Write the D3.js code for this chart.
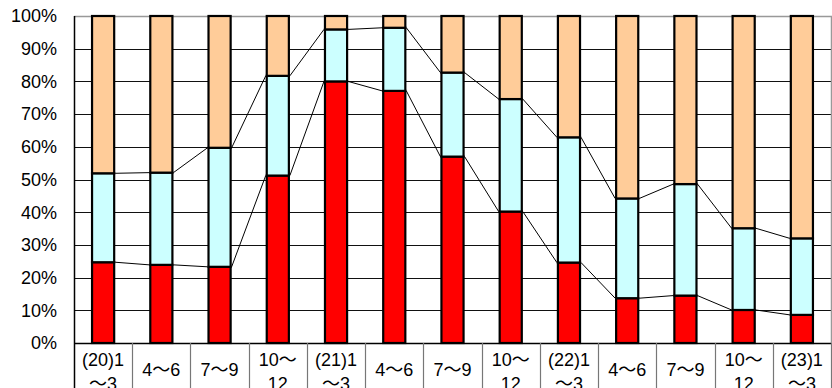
<!DOCTYPE html>
<html>
<head>
<meta charset="utf-8">
<script src="https://cdn.jsdelivr.net/npm/d3@7"></script>
<style>
  body { margin: 0; background: #fff; }
  svg { display: block; font-family: "Liberation Sans", Arial, "Noto Sans CJK JP", sans-serif; }
</style>
</head>
<body>
<div data-js-graph></div>
<script>
// quarters (two-line labels split on \n)
const categories = [
  '(20)1\n～3', '4～6', '7～9', '10～\n12',
  '(21)1\n～3', '4～6', '7～9', '10～\n12',
  '(22)1\n～3', '4～6', '7～9', '10～\n12',
  '(23)1\n～3',
];

// shares in %, bottom to top
const redShare = [24.7, 23.9, 23.3, 51.2, 80.0, 77.1, 57.0, 40.2, 24.6, 13.7, 14.5, 10.1, 8.6];
const cyanShare = [27.2, 28.2, 36.4, 30.5, 15.9, 19.3, 25.7, 34.4, 38.3, 30.5, 34.1, 25.0, 23.4];
const peachShare = [48.1, 47.9, 40.3, 18.3, 4.1, 3.6, 17.3, 25.4, 37.1, 55.8, 51.4, 64.9, 68.0];

const yTicks = [0, 10, 20, 30, 40, 50, 60, 70, 80, 90, 100];

const SETTING = {
  width: 832,
  height: 388,
  left: 74,
  right: 831,
  top: 16,
  bottom: 343,
  colors: ['#ff0000', '#ccffff', '#ffcc99'],
};

const keys = ['red', 'cyan', 'peach'];
const rows = categories.map((c, i) => ({
  idx: i, red: redShare[i], cyan: cyanShare[i], peach: peachShare[i],
}));
const series = d3.stack().keys(keys)(rows);

const svg = d3.select('[data-js-graph]').append('svg')
  .attr('width', SETTING.width)
  .attr('height', SETTING.height);

const x = d3.scaleBand()
  .domain(d3.range(categories.length))
  .range([SETTING.left, SETTING.right])
  .paddingInner(0.62)
  .paddingOuter(0.31);

const cell = d3.scaleBand()
  .domain(d3.range(categories.length))
  .range([SETTING.left, SETTING.right]);

const y = d3.scaleLinear()
  .domain([0, 100])
  .range([SETTING.bottom, SETTING.top]);

// gridlines
svg.append('g')
  .selectAll('line')
  .data(yTicks.filter((t) => t > 0 && t < 100))
  .enter()
  .append('line')
  .attr('x1', SETTING.left)
  .attr('x2', SETTING.right)
  .attr('y1', (d) => Math.round(y(d)) + 0.5)
  .attr('y2', (d) => Math.round(y(d)) + 0.5)
  .style('stroke', '#111')
  .style('stroke-width', 1);

// plot border (top / right gray)
svg.append('path')
  .attr('d', `M${SETTING.left},${SETTING.top + 0.5}H${SETTING.right + 0.5}V${SETTING.bottom}`)
  .style('fill', 'none')
  .style('stroke', '#999')
  .style('stroke-width', 1.5);

// y labels
svg.append('g')
  .selectAll('text')
  .data(yTicks)
  .enter()
  .append('text')
  .attr('x', 57)
  .attr('y', (d) => y(d))
  .attr('dy', '0.35em')
  .attr('text-anchor', 'end')
  .style('font-size', '18px')
  .style('fill', '#000')
  .text((d) => `${d}%`);

// series lines between bars
[0, 1].forEach((lvl) => {
  const s = series[lvl];
  svg.append('g')
    .selectAll('line')
    .data(s.slice(0, -1))
    .enter()
    .append('line')
    .attr('x1', (d, i) => x(i) + x.bandwidth() + 1)
    .attr('x2', (d, i) => x(i + 1) - 1)
    .attr('y1', (d) => y(d[1]))
    .attr('y2', (d, i) => y(s[i + 1][1]))
    .style('stroke', '#000')
    .style('stroke-width', 1);
});

// bars
svg.append('g')
  .selectAll('g')
  .data(series)
  .enter()
  .append('g')
  .style('fill', (d, i) => SETTING.colors[i])
  .selectAll('rect')
  .data((d) => d)
  .enter()
  .append('rect')
  .attr('x', (d) => x(d.data.idx))
  .attr('y', (d) => y(d[1]))
  .attr('width', x.bandwidth())
  .attr('height', (d) => y(d[0]) - y(d[1]))
  .style('stroke', '#000')
  .style('stroke-width', 2.2);

// y axis line
svg.append('line')
  .attr('x1', SETTING.left + 0.5)
  .attr('x2', SETTING.left + 0.5)
  .attr('y1', SETTING.top)
  .attr('y2', SETTING.height)
  .style('stroke', '#000')
  .style('stroke-width', 1.5);

// category table
const table = svg.append('g');
table.append('line')
  .attr('x1', SETTING.left)
  .attr('x2', SETTING.right)
  .attr('y1', SETTING.bottom + 0.5)
  .attr('y2', SETTING.bottom + 0.5)
  .style('stroke', '#000')
  .style('stroke-width', 1.5);

table.selectAll('line.sep')
  .data(d3.range(1, categories.length + 1))
  .enter()
  .append('line')
  .attr('class', 'sep')
  .attr('x1', (d) => Math.round(d < categories.length ? cell(d) : SETTING.right) + 0.5)
  .attr('x2', (d) => Math.round(d < categories.length ? cell(d) : SETTING.right) + 0.5)
  .attr('y1', SETTING.bottom)
  .attr('y2', SETTING.height)
  .style('stroke', '#777')
  .style('stroke-width', 1.2);

const labels = table.selectAll('text')
  .data(categories)
  .enter()
  .append('text')
  .attr('text-anchor', 'middle')
  .style('font-size', '18px')
  .style('fill', '#000');

// the wave dash is drawn with the CJK font so it gets full width
function addLine(el, str, cx, yPos) {
  const line = el.append('tspan').attr('x', cx).attr('y', yPos);
  str.split(/(～)/).filter((p) => p.length).forEach((p) => {
    const t = line.append('tspan').text(p);
    if (p === '～') t.style('font-family', '"Noto Sans CJK JP"');
  });
}

labels.each(function (d, i) {
  const parts = d.split('\n');
  const cx = cell(i) + cell.bandwidth() / 2;
  const el = d3.select(this);
  if (parts.length === 1) {
    addLine(el, parts[0], cx, 376);
  } else {
    parts.forEach((p, j) => addLine(el, p, cx, 366 + j * 24));
  }
});
</script>
</body>
</html>
